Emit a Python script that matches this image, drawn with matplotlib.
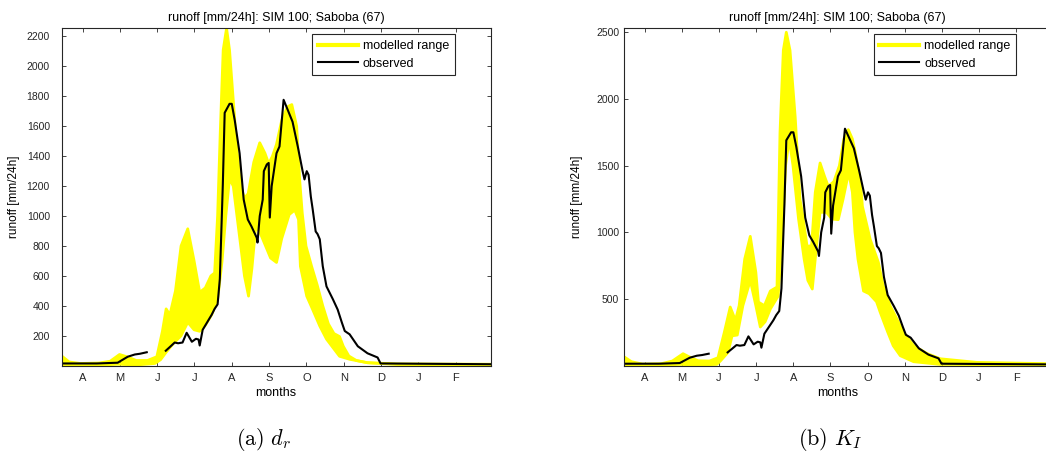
import numpy as np
import matplotlib
matplotlib.use('Agg')
import matplotlib.pyplot as plt
from matplotlib.lines import Line2D

plt.rcParams['font.family'] = ['Liberation Sans', 'DejaVu Sans']
plt.rcParams['mathtext.fontset'] = 'cm'

# x in months from the start of the plotted year
month_labels = ['A', 'M', 'J', 'J', 'A', 'S', 'O', 'N', 'D', 'J', 'F']
month_ticks = [0.56, 1.56, 2.56, 3.56, 4.56, 5.56, 6.56, 7.56, 8.56, 9.56, 10.56]

# observed runoff (gap = missing record)
obs_x = [0.00, 0.94, 1.50, 1.77, 1.96, 2.10, 2.28, np.nan,
         2.79, 2.90, 3.03, 3.12, 3.24, 3.35, 3.49, 3.60, 3.67, 3.70, 3.78,
         3.90, 4.02, 4.10, 4.18, 4.24,
         4.32, 4.37, 4.50, 4.56, 4.64, 4.77, 4.88, 4.99, 5.09, 5.23, 5.25,
         5.31, 5.39, 5.42, 5.50, 5.55, 5.58, 5.63, 5.76, 5.84, 5.95, 6.06,
         6.19, 6.33, 6.46, 6.51, 6.57, 6.62, 6.68, 6.73, 6.81, 6.86, 6.92,
         7.00, 7.10, 7.27, 7.40, 7.51, 7.59, 7.66, 7.72, 7.94, 8.20, 8.47,
         8.55, 11.50]
obs_y = [15, 15, 20, 60, 75, 80, 90, np.nan,
         100, 125, 155, 150, 155, 220, 160, 180, 175, 135, 240,
         290, 340, 380, 410, 580,
         1210, 1690, 1750, 1750, 1640, 1420, 1110, 977, 930, 855, 823,
         1000, 1110, 1300, 1345, 1355, 990, 1200, 1420, 1465, 1777, 1710,
         1630, 1465, 1300, 1245, 1300, 1275, 1130, 1045, 897, 880, 845,
         665, 530, 445, 375, 290, 232, 220, 210, 130, 83, 55,
         15, 10]

# modelled range, panel (a) d_r
dr_up_x = [0.0, 0.2, 0.5, 1.0, 1.3, 1.55, 1.75, 2.0, 2.3, 2.55, 2.7, 2.8, 2.9,
           3.05, 3.2, 3.38, 3.55, 3.7, 3.85, 4.0, 4.1, 4.18, 4.25, 4.33, 4.42,
           4.5, 4.6, 4.7, 4.8, 4.9, 5.0, 5.15, 5.31, 5.45, 5.55, 5.65, 5.76,
           5.9, 6.05, 6.17, 6.3, 6.38, 6.45, 6.55, 6.7, 6.85, 7.0, 7.15, 7.3,
           7.45, 7.55, 7.7, 7.9, 8.2, 9.0, 11.5]
dr_up_y = [65, 25, 15, 18, 30, 75, 60, 35, 35, 60, 230, 380, 340,
           500, 800, 915, 700, 490, 520, 600, 620, 1000, 1550, 2110, 2255,
           2110, 1775, 1440, 1200, 1120, 1150, 1360, 1490, 1420, 1350, 1400, 1480,
           1640, 1730, 1745, 1600, 1245, 1020, 800, 665, 540, 400, 280, 215,
           195, 130, 65, 35, 20, 12, 10]
dr_lo_x = [0.0, 1.0, 1.5, 2.0, 2.5, 2.65, 2.8, 3.0, 3.2, 3.38, 3.55, 3.7, 3.85,
           4.02, 4.18, 4.3, 4.4, 4.5, 4.6, 4.7, 4.8, 4.9, 5.01, 5.1, 5.2, 5.3,
           5.4, 5.5, 5.6, 5.76, 5.9, 6.1, 6.25, 6.35, 6.4, 6.57, 6.73, 6.92,
           7.1, 7.27, 7.45, 7.72, 8.2, 9.0, 11.5]
dr_lo_y = [5, 3, 10, 5, 15, 40, 90, 150, 200, 290, 240, 230, 270,
           340, 440, 700, 1000, 1250, 1200, 1000, 800, 600, 465, 650, 920, 900,
           840, 780, 720, 690, 850, 1010, 1040, 977, 665, 465, 375, 265,
           178, 122, 63, 43, 20, 8, 5]

# modelled range, panel (b) K_I
ki_up_x = [0.0, 0.2, 0.5, 1.0, 1.3, 1.59, 1.8, 2.0, 2.3, 2.53, 2.7, 2.86, 3.0,
           3.1, 3.25, 3.4, 3.55, 3.62, 3.78, 3.94, 4.12, 4.2, 4.29, 4.37, 4.47,
           4.61, 4.74, 4.8, 4.93, 5.05, 5.15, 5.28, 5.4, 5.5, 5.65, 5.8, 5.92,
           6.04, 6.15, 6.23, 6.36, 6.42, 6.63, 6.85, 6.98, 7.17, 7.35, 7.52,
           7.8, 8.17, 8.52, 9.5, 11.5]
ki_up_y = [67, 30, 12, 15, 35, 90, 60, 37, 35, 60, 250, 440, 340,
           450, 800, 970, 700, 477, 450, 560, 590, 1745, 2365, 2500, 2365,
           1865, 1245, 1150, 895, 900, 1300, 1520, 1420, 1345, 1380, 1500, 1700,
           1770, 1700, 1595, 1395, 1195, 947, 775, 597, 448, 350, 253,
           150, 90, 52, 25, 15]
ki_lo_x = [0.0, 1.0, 1.5, 2.0, 2.5, 2.6, 2.8, 2.91, 3.05, 3.2, 3.4, 3.55, 3.67,
           3.8, 3.94, 4.15, 4.25, 4.35, 4.45, 4.55, 4.7, 4.85, 4.95, 5.07, 5.15,
           5.28, 5.45, 5.6, 5.77, 5.9, 6.05, 6.15, 6.22, 6.3, 6.45, 6.6, 6.8,
           6.9, 7.1, 7.25, 7.44, 7.8, 8.5, 11.5]
ki_lo_y = [5, 3, 10, 5, 10, 37, 100, 224, 230, 450, 640, 450, 290,
           330, 425, 522, 900, 1500, 1700, 1500, 1100, 800, 640, 575, 800,
           1150, 1150, 1100, 1095, 1250, 1450, 1300, 1000, 800, 560, 540, 480,
           400, 253, 150, 75, 30, 10, 5]

title = 'runoff [mm/24h]: SIM 100; Saboba (67)'
fs = 9
tfs = 7.5

fig = plt.figure(figsize=(10.46, 4.61), dpi=100)
ax1 = fig.add_axes([0.059, 0.2067, 0.410, 0.732])
ax2 = fig.add_axes([0.5966, 0.2067, 0.4082, 0.732])

panels = [
    (ax1, dr_up_x, dr_up_y, dr_lo_x, dr_lo_y, 2255, list(range(200, 2201, 200)), 8.5, 0.916, -0.098),
    (ax2, ki_up_x, ki_up_y, ki_lo_x, ki_lo_y, 2530, list(range(500, 2501, 500)), 3.5, 0.918, -0.096),
]

for ax, ux, uy, lx, ly, ytop, yticks, ypad, legx, ylx in panels:
    ax.fill(np.r_[ux, lx[::-1]], np.r_[uy, ly[::-1]], color='#ffff00', lw=0)
    ax.plot(ux, uy, color='#ffff00', lw=2, solid_joinstyle='round')
    ax.plot(lx, ly, color='#ffff00', lw=2, solid_joinstyle='round')
    ax.plot(obs_x, obs_y, color='black', lw=1.5)

    ax.set_xlim(0, 11.5)
    ax.set_ylim(0, ytop)
    ax.set_xticks(month_ticks)
    ax.set_xticklabels(month_labels)
    ax.set_yticks(yticks)
    ax.tick_params(direction='in', length=3, width=0.6, top=True, right=True,
                   labelsize=tfs, colors='#262626')
    ax.tick_params(axis='y', pad=ypad)
    ax.tick_params(axis='x', pad=5, labelsize=8)
    for s in ax.spines.values():
        s.set_linewidth(0.8)
        s.set_color('#262626')

    ax.set_title(title, fontsize=fs, pad=5)
    ax.set_xlabel('months', fontsize=fs, labelpad=3)
    ax.set_ylabel('runoff [mm/24h]', fontsize=8.5)
    ax.yaxis.set_label_coords(ylx, 0.5)

    handles = [Line2D([], [], color='#ffff00', lw=3),
               Line2D([], [], color='black', lw=1.5)]
    leg = ax.legend(handles, ['modelled range', 'observed'], loc='upper right',
                    bbox_to_anchor=(legx, 0.982), borderaxespad=0, fontsize=fs,
                    fancybox=False, framealpha=1, edgecolor='#262626',
                    handlelength=3.2, handletextpad=0.4, borderpad=0.45,
                    labelspacing=0.45)
    leg.get_frame().set_linewidth(0.8)

fig.text(264 / 1046, 1 - 439 / 461, r'$\mathrm{(a)}\ d_r$', fontsize=16,
         ha='center', va='center')
fig.text(830 / 1046, 1 - 439 / 461, r'$\mathrm{(b)}\ K_I$', fontsize=16,
         ha='center', va='center')

fig.savefig('out.png', dpi=100)
